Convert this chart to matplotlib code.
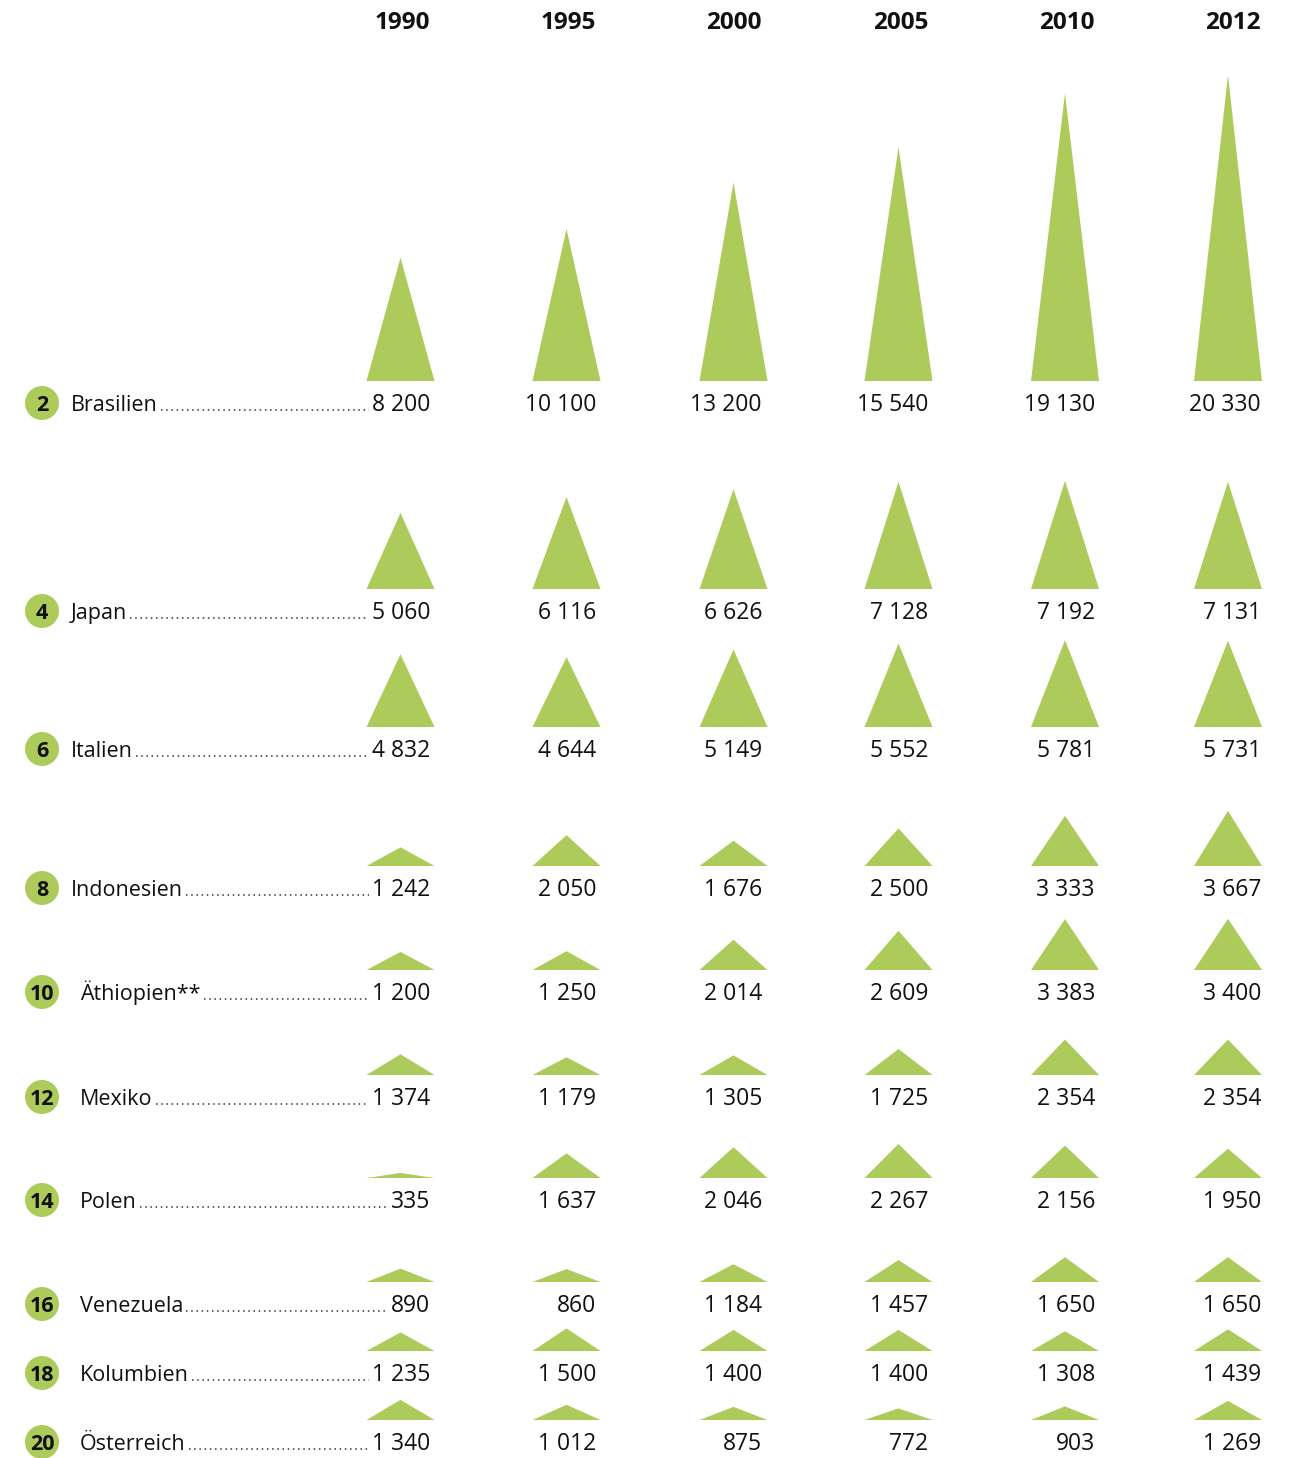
import matplotlib
matplotlib.use("Agg")
import matplotlib.pyplot as plt
from matplotlib.patches import Polygon, Circle

# data
years = [1990, 1995, 2000, 2005, 2010, 2012]
ranks = [2, 4, 6, 8, 10, 12, 14, 16, 18, 20]
countries = ["Brasilien", "Japan", "Italien", "Indonesien", "Äthiopien**",
             "Mexiko", "Polen", "Venezuela", "Kolumbien", "Österreich"]

brasilien = [8200, 10100, 13200, 15540, 19130, 20330]
japan = [5060, 6116, 6626, 7128, 7192, 7131]
italien = [4832, 4644, 5149, 5552, 5781, 5731]
indonesien = [1242, 2050, 1676, 2500, 3333, 3667]
aethiopien = [1200, 1250, 2014, 2609, 3383, 3400]
mexiko = [1374, 1179, 1305, 1725, 2354, 2354]
polen = [335, 1637, 2046, 2267, 2156, 1950]
venezuela = [890, 860, 1184, 1457, 1650, 1650]
kolumbien = [1235, 1500, 1400, 1400, 1308, 1439]
oesterreich = [1340, 1012, 875, 772, 903, 1269]
values = [brasilien, japan, italien, indonesien, aethiopien,
          mexiko, polen, venezuela, kolumbien, oesterreich]

# layout (pixels)
W, H = 1298, 1458
green = "#adcb5a"
base_y = [381, 589, 727, 866, 970, 1075, 1178, 1282, 1351, 1420]
col_center = [400.5, 566.5, 733.5, 898.5, 1065, 1228]
col_right = [430, 596, 762, 928, 1095, 1261]
half_w = 34
scale = 0.01505   # px per unit
font = "Open Sans"

fig = plt.figure(figsize=(W / 100, H / 100), dpi=100)
ax = fig.add_axes([0, 0, 1, 1])
ax.set_xlim(0, W)
ax.set_ylim(H, 0)
ax.axis("off")

# year header
for j, yr in enumerate(years):
    ax.text(col_right[j], 29, str(yr), ha="right", va="baseline",
            fontsize=17.5, fontweight="bold", family=font, color="#111111")

fig.canvas.draw()
renderer = fig.canvas.get_renderer()
inv = ax.transData.inverted()

for i, name in enumerate(countries):
    b = base_y[i]
    # triangles
    for j, v in enumerate(values[i]):
        cx = col_center[j]
        tri = Polygon([(cx - half_w, b), (cx + half_w, b), (cx, b - v * scale)],
                      closed=True, facecolor=green, edgecolor="none")
        ax.add_patch(tri)
    # value labels
    num_texts = []
    for j, v in enumerate(values[i]):
        s = f"{v:,}".replace(",", " ")
        t = ax.text(col_right[j], b + 30, s, ha="right", va="baseline",
                    fontsize=16.5, family=font, color="#111111")
        num_texts.append(t)
    # rank circle
    ax.add_patch(Circle((42, b + 22), 17, facecolor=green, edgecolor="none"))
    ax.text(42, b + 30, str(ranks[i]), ha="center", va="baseline",
            fontsize=15.5, fontweight="bold", family=font, color="#111111")
    # country name
    nx = 71 if ranks[i] < 10 else 80
    nt = ax.text(nx, b + 30, name, ha="left", va="baseline",
                 fontsize=15.5, family=font, color="#111111")
    fig.canvas.draw()
    e1 = nt.get_window_extent(renderer)
    e2 = num_texts[0].get_window_extent(renderer)
    x0 = inv.transform((e1.x1, 0))[0] + 3
    x1 = inv.transform((e2.x0, 0))[0] - 3
    ax.plot([x0, x1], [b + 29, b + 29], color="#333333", lw=1.1,
            linestyle=(0, (1, 2.4)))

fig.savefig("out.png", dpi=100)
